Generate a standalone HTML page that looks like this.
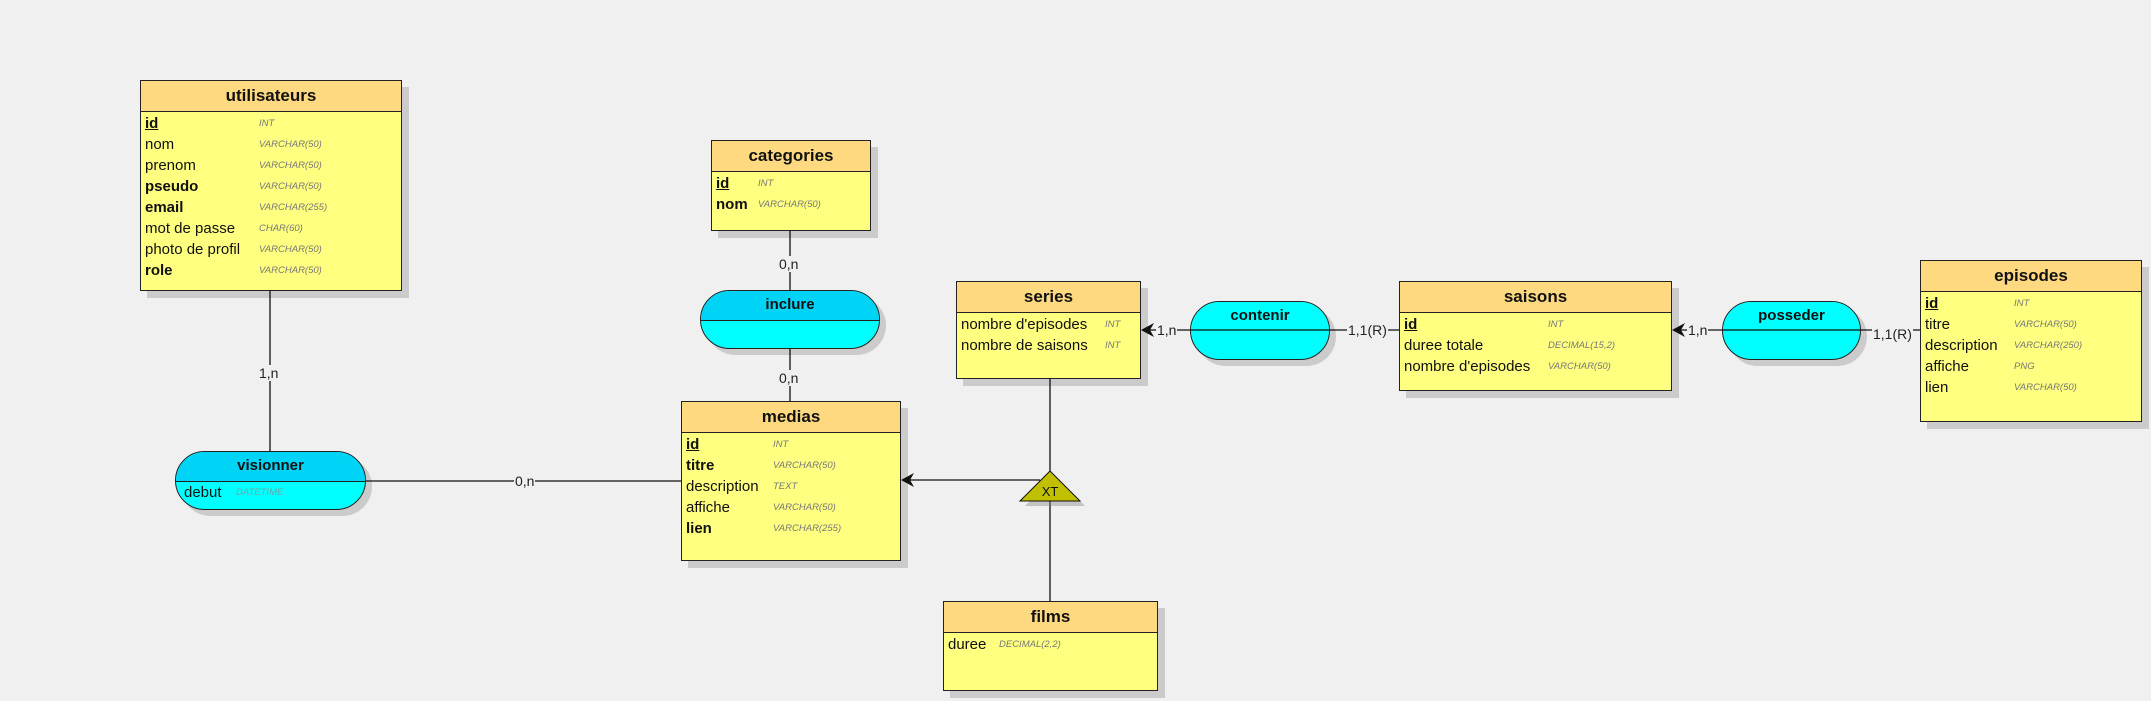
<!DOCTYPE html>
<html><head><meta charset="utf-8"><style>
body{margin:0;width:2151px;height:701px;background:#f0f0f0;position:relative;overflow:hidden;font-family:"Liberation Sans",sans-serif;}
.e{position:absolute;border:1px solid #222;background:#ffff80;box-shadow:7px 7px 0 #cbcbcb;box-sizing:border-box;}
.h{height:30px;line-height:30px;background:#ffd980;border-bottom:1px solid #222;text-align:center;font-weight:bold;font-size:17px;color:#111;}
.r{position:relative;height:21px;line-height:21px;font-size:15px;color:#111;padding-left:4px;white-space:nowrap;}
.r i{position:absolute;top:0;font-size:9.5px;color:#777;font-style:italic;font-weight:normal;}
.b{font-weight:bold}.u{font-weight:bold;text-decoration:underline;}
.a{position:absolute;border:1px solid #222;border-radius:30px;overflow:hidden;box-shadow:6px 6px 0 #cbcbcb;box-sizing:border-box;background:#00ffff;}
.a .t{background:#00d4f6;border-bottom:1px solid #222;text-align:center;font-weight:bold;font-size:15px;height:29px;line-height:28px;color:#111;}
.l{position:absolute;font-size:14px;color:#222;background:#f0f0f0;line-height:16px;padding:0 1px;}
svg{position:absolute;left:0;top:0;}
</style></head><body>

<div class="e" style="left:140px;top:80px;width:262px;height:211px">
<div class="h">utilisateurs</div><div style="height:1px"></div>
<div class="r"><span class="u">id</span><i style="left:118px">INT</i></div>
<div class="r">nom<i style="left:118px">VARCHAR(50)</i></div>
<div class="r">prenom<i style="left:118px">VARCHAR(50)</i></div>
<div class="r b">pseudo<i style="left:118px">VARCHAR(50)</i></div>
<div class="r b">email<i style="left:118px">VARCHAR(255)</i></div>
<div class="r">mot de passe<i style="left:118px">CHAR(60)</i></div>
<div class="r">photo de profil<i style="left:118px">VARCHAR(50)</i></div>
<div class="r b">role<i style="left:118px">VARCHAR(50)</i></div>
</div>

<div class="e" style="left:711px;top:140px;width:160px;height:91px">
<div class="h">categories</div><div style="height:1px"></div>
<div class="r"><span class="u">id</span><i style="left:46px">INT</i></div>
<div class="r b">nom<i style="left:46px">VARCHAR(50)</i></div>
</div>

<div class="a" style="left:700px;top:290px;width:180px;height:59px"><div class="t">inclure</div></div>

<div class="a" style="left:175px;top:451px;width:191px;height:59px"><div class="t">visionner</div>
<div class="r" style="padding-left:8px">debut<i style="left:60px;color:#6aa">DATETIME</i></div></div>

<div class="e" style="left:681px;top:401px;width:220px;height:160px">
<div class="h">medias</div><div style="height:1px"></div>
<div class="r"><span class="u">id</span><i style="left:91px">INT</i></div>
<div class="r b">titre<i style="left:91px">VARCHAR(50)</i></div>
<div class="r">description<i style="left:91px">TEXT</i></div>
<div class="r">affiche<i style="left:91px">VARCHAR(50)</i></div>
<div class="r b">lien<i style="left:91px">VARCHAR(255)</i></div>
</div>

<div class="e" style="left:956px;top:281px;width:185px;height:98px">
<div class="h">series</div><div style="height:1px"></div>
<div class="r">nombre d'episodes<i style="left:148px">INT</i></div>
<div class="r">nombre de saisons<i style="left:148px">INT</i></div>
</div>

<div class="a" style="left:1190px;top:301px;width:140px;height:59px"><div class="t" style="background:#00ffff;border-bottom:none">contenir</div></div>

<div class="e" style="left:1399px;top:281px;width:273px;height:110px">
<div class="h">saisons</div><div style="height:1px"></div>
<div class="r"><span class="u">id</span><i style="left:148px">INT</i></div>
<div class="r">duree totale<i style="left:148px">DECIMAL(15,2)</i></div>
<div class="r">nombre d'episodes<i style="left:148px">VARCHAR(50)</i></div>
</div>

<div class="a" style="left:1722px;top:301px;width:139px;height:59px"><div class="t" style="background:#00ffff;border-bottom:none">posseder</div></div>

<div class="e" style="left:1920px;top:260px;width:222px;height:162px">
<div class="h">episodes</div><div style="height:1px"></div>
<div class="r"><span class="u">id</span><i style="left:93px">INT</i></div>
<div class="r">titre<i style="left:93px">VARCHAR(50)</i></div>
<div class="r">description<i style="left:93px">VARCHAR(250)</i></div>
<div class="r">affiche<i style="left:93px">PNG</i></div>
<div class="r">lien<i style="left:93px">VARCHAR(50)</i></div>
</div>

<div class="e" style="left:943px;top:601px;width:215px;height:90px">
<div class="h">films</div><div style="height:1px"></div>
<div class="r">duree<i style="left:55px">DECIMAL(2,2)</i></div>
</div>

<svg width="2151" height="701">
<g stroke="#111" stroke-width="1.3" fill="none">
<line x1="270" y1="291" x2="270" y2="451"/>
<line x1="366" y1="481" x2="681" y2="481"/>
<line x1="790" y1="231" x2="790" y2="290"/>
<line x1="790" y1="349" x2="790" y2="401"/>
<line x1="1050" y1="379" x2="1050" y2="471"/>
<line x1="1050" y1="501" x2="1050" y2="601"/>
<line x1="903" y1="480" x2="1040" y2="480"/>
<line x1="1143" y1="330" x2="1399" y2="330"/>
<line x1="1674" y1="330" x2="1920" y2="330"/>
</g>
<polygon points="1050,471 1020,501 1080,501" fill="#7f7f7f" opacity="0.4" transform="translate(5,5)"/>
<polygon points="1050,471 1020,501 1080,501" fill="#c0c000" stroke="#111" stroke-width="1"/>
<text x="1050" y="496" font-family="Liberation Sans" font-size="13" text-anchor="middle" fill="#111">XT</text>
<polygon points="901,480 914,473 910,480 914,487" fill="#111"/>
<polygon points="1141,330 1154,323 1150,330 1154,337" fill="#111"/>
<polygon points="1672,330 1685,323 1681,330 1685,337" fill="#111"/>
</svg>
<div class="l" style="left:258px;top:365px">1,n</div>
<div class="l" style="left:514px;top:473px">0,n</div>
<div class="l" style="left:778px;top:256px">0,n</div>
<div class="l" style="left:778px;top:370px">0,n</div>
<div class="l" style="left:1156px;top:322px">1,n</div>
<div class="l" style="left:1347px;top:322px">1,1(R)</div>
<div class="l" style="left:1687px;top:322px">1,n</div>
<div class="l" style="left:1872px;top:326px">1,1(R)</div>
</body></html>
